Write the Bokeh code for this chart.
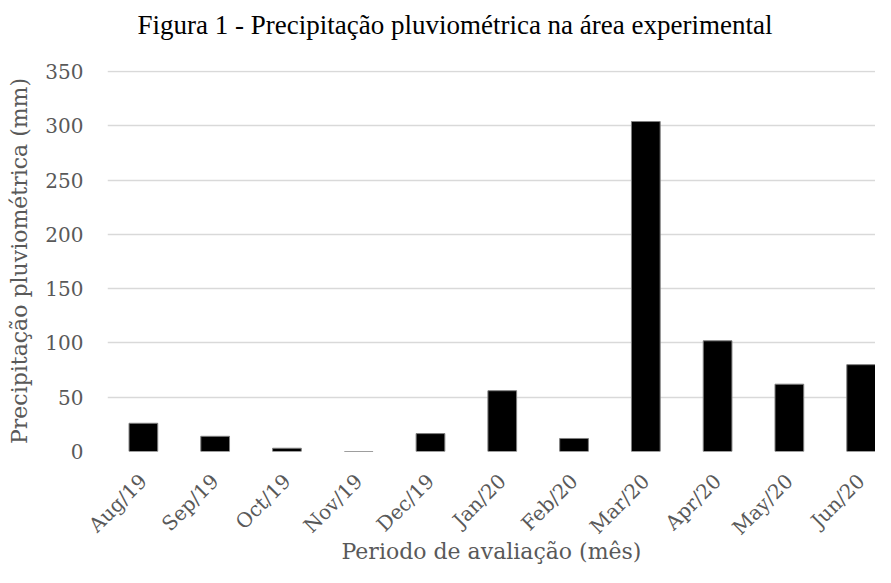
import math
from bokeh.plotting import figure
from bokeh.models import Range1d, FixedTicker, LinearAxis
from bokeh.embed import file_html
from bokeh.resources import INLINE

# ---- data ----
months = ["Aug/19", "Sep/19", "Oct/19", "Nov/19", "Dec/19", "Jan/20",
          "Feb/20", "Mar/20", "Apr/20", "May/20", "Jun/20"]
precip = [26, 14, 3, 0, 16.5, 56, 12, 304, 102, 62, 80]
y_ticks = [0, 50, 100, 150, 200, 250, 300, 350]

title_text = "Figura 1 - Precipitação pluviométrica na área experimental"
x_title = "Periodo de avaliação (mês)"
y_title = "Precipitação pluviométrica (mm)"

positions = list(range(len(months)))

p = figure(width=875, height=567, output_backend="svg", toolbar_location=None,
           x_range=Range1d(-0.5, 10.2), y_range=Range1d(0, 351),
           min_border_left=107, min_border_right=0, min_border_top=70,
           min_border_bottom=116)

p.vbar(x=positions, top=precip, width=0.4, fill_color="black",
       line_color="#7f7f7f", line_width=1)

p.outline_line_color = None
p.background_fill_color = "white"
p.border_fill_color = "white"

label_font = "DejaVu Serif"
grey = "#595959"

# x axis (the bottom one)
xa = p.below[0]
xa.ticker = FixedTicker(ticks=positions)
xa.major_label_overrides = {i: m for i, m in enumerate(months)}
xa.major_label_orientation = math.pi / 4
xa.axis_line_color = None
xa.major_tick_line_color = None
xa.major_tick_out = 0
xa.major_tick_in = 0
xa.minor_tick_line_color = None
xa.major_label_text_font = label_font
xa.major_label_text_font_size = "20px"
xa.major_label_text_color = grey
xa.major_label_standoff = 26
xa.axis_label = x_title
xa.axis_label_text_font = label_font
xa.axis_label_text_font_size = "22px"
xa.axis_label_text_font_style = "normal"
xa.axis_label_text_color = grey
xa.axis_label_standoff = -12

# y axis
ya = p.left[0]
ya.ticker = FixedTicker(ticks=y_ticks)
ya.axis_line_color = None
ya.major_tick_line_color = None
ya.major_tick_out = 0
ya.major_tick_in = 0
ya.minor_tick_line_color = None
ya.major_label_text_font = label_font
ya.major_label_text_font_size = "20px"
ya.major_label_text_color = grey
ya.major_label_standoff = 24
ya.axis_label = y_title
ya.axis_label_text_font = label_font
ya.axis_label_text_font_size = "22px"
ya.axis_label_text_font_style = "normal"
ya.axis_label_text_color = grey
ya.axis_label_standoff = 10

p.xgrid.visible = False
p.ygrid.ticker = FixedTicker(ticks=y_ticks)
p.ygrid.grid_line_color = "#d9d9d9"
p.ygrid.grid_line_width = 1.5

# title
p.title.text = title_text
p.title.text_font = "Liberation Serif"
p.title.text_font_size = "27px"
p.title.text_font_style = "normal"
p.title.text_color = "black"
p.title.align = "left"
p.title.offset = 30
p.title.standoff = 0

# invisible spacer axis between title and plot area
spacer = LinearAxis(ticker=FixedTicker(ticks=[0]))
spacer.axis_line_color = None
spacer.major_tick_line_color = None
spacer.minor_tick_line_color = None
spacer.major_tick_out = 31
spacer.major_tick_in = 0
spacer.major_label_standoff = 0
spacer.major_label_overrides = {0: ""}
spacer.major_label_text_font_size = "0px"
spacer.major_label_text_alpha = 0
p.add_layout(spacer, "above")

open("out.html", "w").write(file_html(p, INLINE))
